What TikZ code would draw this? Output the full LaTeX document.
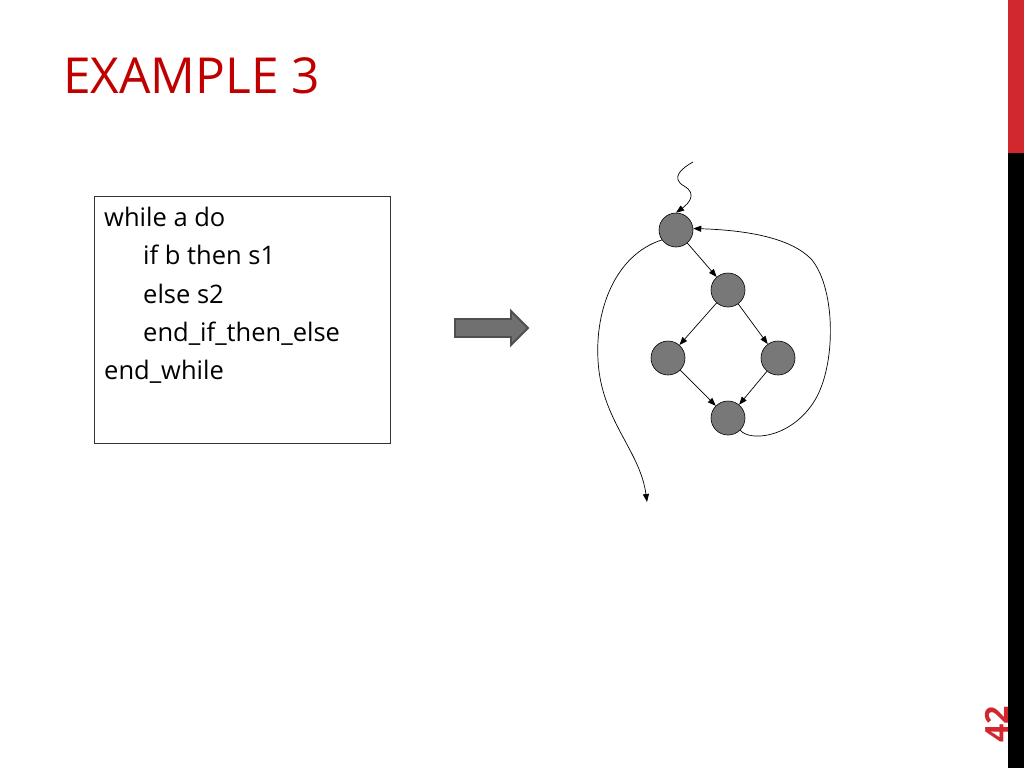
\documentclass[tikz,border=0pt]{standalone}
\usepackage{fontspec}
\setmainfont{Open Sans}
\usetikzlibrary{arrows.meta}
\definecolor{titlered}{RGB}{192,0,0}
\definecolor{barred}{RGB}{208,40,46}
\definecolor{nodegray}{RGB}{120,120,120}
\definecolor{arrowgray}{RGB}{112,112,112}
\definecolor{arrowedge}{RGB}{80,80,80}
\tikzset{
  vertex/.style={circle,draw=black,line width=0.6pt,fill=nodegray,minimum size=34pt,inner sep=0pt},
  edge/.style={line width=0.7pt,-{Triangle[length=8pt,width=6pt]}},
  codeline/.style={anchor=base west,inner sep=0pt,font=\fontsize{25.5}{30}\selectfont},
}
\begin{document}
\begin{tikzpicture}[x=1pt,y=-1pt]
\useasboundingbox (0,0) rectangle (1024,768);
\fill[white] (0,0) rectangle (1024,768);
% right bar
\fill[barred] (1008,0) rectangle (1024,153);
\fill[black] (1008,153) rectangle (1024,768);
% title
\node[anchor=base west,inner sep=0pt,text=titlered,font=\fontsize{49.6}{56}\selectfont] (title) at (63,93) {EXAMPLE 3};
% page number
\node[rotate=90,inner sep=0pt,text=barred,font=\fontsize{32}{36}\selectfont\bfseries] (pnum) at (997,724) {42};
% code box
\node[draw=black!80,line width=0.8pt,minimum width=296pt,minimum height=247pt,anchor=north west,inner sep=0pt] (box) at (94,196) {};
\node[codeline] (l1) at (104,226.5) {while a do};
\node[codeline] (l2) at (143,264.8) {if b then s1};
\node[codeline] (l3) at (143,303.1) {else s2};
\node[codeline] (l4) at (143,341.4) {end\_if\_then\_else};
\node[codeline] (l5) at (104,379.7) {end\_while};
% block arrow
\draw[fill=arrowgray,draw=arrowedge,line width=1.8pt,line join=miter]
  (455,319) -- (511,319) -- (511,311) -- (528,328) -- (511,345) -- (511,337) -- (455,337) -- cycle;
% graph
\node[vertex] (n1) at (676,230) {};
\node[vertex] (n2) at (728,290) {};
\node[vertex] (n3) at (668,358) {};
\node[vertex] (n4) at (778,358) {};
\node[vertex] (n5) at (728,418) {};
\coordinate (entry) at (693,162);
\coordinate (exit) at (647,502);
\draw[edge] (n1) -- (n2);
\draw[edge] (n2) -- (n3);
\draw[edge] (n2) -- (n4);
\draw[edge] (n3) -- (n5);
\draw[edge] (n4) -- (n5);
\draw[edge] (entry) .. controls (682,168) and (670,178) .. (684,186) .. controls (698,194) and (688,204) .. (n1.north);
\draw[edge] (n1.215) .. controls (615,255) and (595,310) .. (598,360) .. controls (601,420) and (640,450) .. (exit);
\draw[edge] (n5.-45) .. controls (750,442) and (792,438) .. (815,400) .. controls (836,365) and (836,290) .. (812,260) .. controls (790,236) and (740,230) .. (n1.5);
\end{tikzpicture}
\end{document}
